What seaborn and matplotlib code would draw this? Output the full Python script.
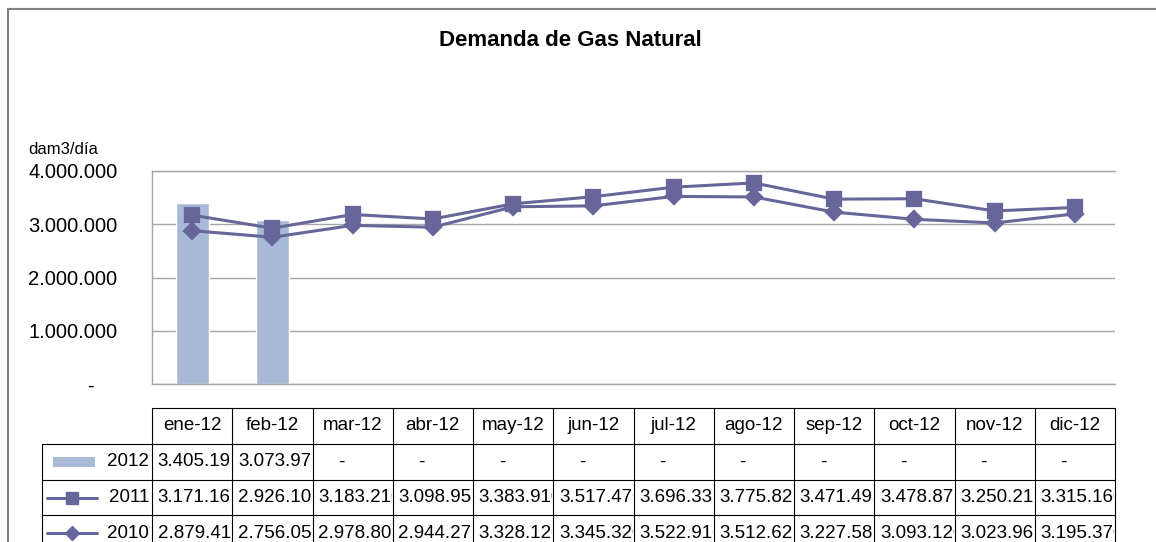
import numpy as np
import pandas as pd
import matplotlib
matplotlib.use('Agg')
import matplotlib.pyplot as plt
import matplotlib.transforms as mtransforms
from matplotlib.patches import Rectangle
from matplotlib.lines import Line2D
import seaborn as sns

# data (dam3/dia)
meses = ['ene-12', 'feb-12', 'mar-12', 'abr-12', 'may-12', 'jun-12',
         'jul-12', 'ago-12', 'sep-12', 'oct-12', 'nov-12', 'dic-12']
v2012 = [3405195, 3073975, np.nan, np.nan, np.nan, np.nan,
         np.nan, np.nan, np.nan, np.nan, np.nan, np.nan]
v2011 = [3171165, 2926105, 3183210, 3098955, 3383910, 3517470,
         3696335, 3775820, 3471495, 3478870, 3250210, 3315160]
v2010 = [2879410, 2756055, 2978805, 2944275, 3328120, 3345320,
         3522910, 3512620, 3227585, 3093120, 3023965, 3195370]
yticks = [0, 1000000, 2000000, 3000000, 4000000]

bar_color = '#A9B9D8'
line_color = '#66669A'
grid_color = '#A6A6A6'

sns.set_theme(style='white')
plt.rcParams['font.family'] = ['Liberation Sans', 'DejaVu Sans']
plt.rcParams['text.color'] = 'black'
plt.rcParams['ytick.color'] = 'black'
plt.rcParams['ytick.labelcolor'] = 'black'

W, H = 1156, 542
fig = plt.figure(figsize=(W / 100, H / 100), dpi=100)
ax = fig.add_axes([152 / W, 1 - 384 / H, (1115 - 152) / W, (384 - 171) / H])

df = pd.DataFrame({'mes': meses, '2012': v2012, '2011': v2011, '2010': v2010})

sns.barplot(data=df, x='mes', y='2012', order=meses, color=bar_color,
            width=0.41, saturation=1, ax=ax)
sns.pointplot(data=df, x='mes', y='2011', order=meses, color=line_color,
              markers='s', markersize=10.5, linewidth=2.2, errorbar=None, ax=ax)
sns.pointplot(data=df, x='mes', y='2010', order=meses, color=line_color,
              markers='D', markersize=8.5, linewidth=2.2, errorbar=None, ax=ax)

ax.set_xlim(-0.5, len(meses) - 0.5)
ax.set_ylim(0, 4000000)
ax.set_yticks(yticks)
ax.set_yticklabels(['-    '] + [f'{v:,.0f}'.replace(',', '.') for v in yticks[1:]],
                   fontsize=14.5, color='black')
ax.tick_params(axis='y', length=0, pad=25)
ax.set_xticks([])
ax.set_xlabel('')
ax.set_ylabel('')
ax.yaxis.grid(True, color=grid_color, linewidth=1)
ax.set_axisbelow(True)
for side in ['left', 'bottom', 'top']:
    ax.spines[side].set_color(grid_color)
    ax.spines[side].set_linewidth(1)
ax.spines['right'].set_visible(False)

# title and unit label
fig.text(570 / W, 1 - 40 / H, 'Demanda de Gas Natural', ha='center', va='center',
         fontsize=16, fontweight='bold')
fig.text(28 / W, 1 - 150 / H, 'dam3/día', ha='left', va='center', fontsize=12)

# outer chart frame
fig.add_artist(Line2D([8 / W, 8 / W], [0, 1 - 9 / H], transform=fig.transFigure,
                      color='#808080', linewidth=1.5))
fig.add_artist(Line2D([8 / W, 1], [1 - 9 / H, 1 - 9 / H], transform=fig.transFigure,
                      color='#808080', linewidth=1.5))

# data table under the chart: x in category units, y in figure fraction
tr = mtransforms.blended_transform_factory(ax.transData, fig.transFigure)
n = len(meses)
rows_px = [408, 444, 480, 515, 551]
ry = [1 - p / H for p in rows_px]
x0, x1 = -0.5, n - 0.5
leg_left = 42 / W
tcol = 'black'
lw = 0.8

# horizontal lines
fig.add_artist(Line2D([x0, x1], [ry[0], ry[0]], transform=tr, color=tcol, linewidth=lw))
for y in ry[1:]:
    fig.add_artist(Line2D([leg_left, 1115 / W], [y, y], transform=fig.transFigure,
                          color=tcol, linewidth=lw))
# vertical lines
for i in range(n + 1):
    fig.add_artist(Line2D([i - 0.5, i - 0.5], [ry[0], 0], transform=tr,
                          color=tcol, linewidth=lw))
fig.add_artist(Line2D([leg_left, leg_left], [ry[1], 0], transform=fig.transFigure,
                      color=tcol, linewidth=lw))

tfs = 13.5
for i, m in enumerate(meses):
    fig.text(i, (ry[0] + ry[1]) / 2, m, transform=tr, ha='center', va='center',
             fontsize=tfs)


def fmt(v):
    return f'{v:,.0f}'.replace(',', '.')


for r, serie in enumerate([v2012, v2011, v2010]):
    yc = (ry[r + 1] + ry[r + 2]) / 2
    for i, v in enumerate(serie):
        if np.isnan(v):
            fig.text(i - 0.14, yc, '-', transform=tr, ha='center', va='center',
                     fontsize=tfs)
        else:
            t = fig.text(i - 0.43, yc, fmt(v), transform=tr, ha='left',
                         va='center', fontsize=tfs)
            clip = Rectangle((i - 0.5, ry[r + 2]), 0.99, ry[r + 1] - ry[r + 2],
                             transform=tr, facecolor='none', edgecolor='none')
            t.set_clip_path(clip)

# legend keys inside the table
labels = ['2012', '2011', '2010']
for r, lab in enumerate(labels):
    yc = (ry[r + 1] + ry[r + 2]) / 2
    fig.text(149 / W, yc, lab, ha='right', va='center', fontsize=tfs)
yc = (ry[1] + ry[2]) / 2
fig.add_artist(Rectangle((53 / W, yc - 5 / H), 42 / W, 10 / H, transform=fig.transFigure,
                         facecolor=bar_color, edgecolor='none'))
for r, mk, ms in [(1, 's', 9), (2, 'D', 7.5)]:
    yc = (ry[r + 1] + ry[r + 2]) / 2
    fig.add_artist(Line2D([47 / W, 97 / W], [yc, yc], transform=fig.transFigure,
                          color=line_color, linewidth=2.2))
    fig.add_artist(Line2D([72 / W], [yc], transform=fig.transFigure, marker=mk,
                          markersize=ms, color=line_color, linestyle='none'))

fig.savefig('out.png', dpi=100)
